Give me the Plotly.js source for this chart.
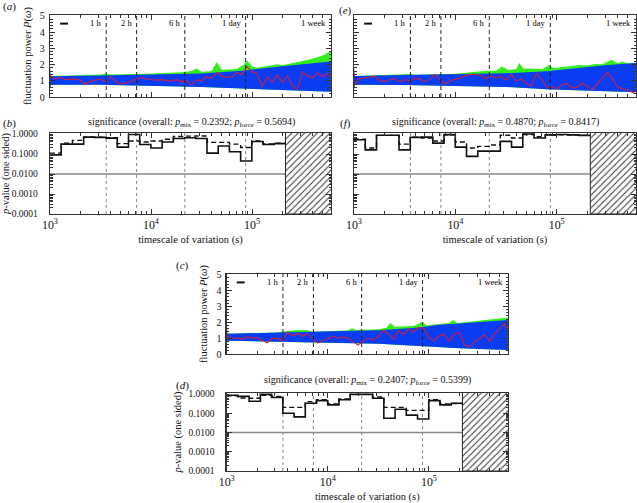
<!DOCTYPE html>
<html><head><meta charset="utf-8">
<script src="https://cdn.plot.ly/plotly-3.0.1.min.js"></script>
<style>html,body{margin:0;padding:0;background:#fff}#chart{width:637px;height:503px}</style>
</head><body><div id="chart"></div>
<script>
// ---------- data ----------
// common sampling grid of the fluctuation-power curves (log10 of timescale in s)
const gridLog = [3.00,3.05,3.10,3.15,3.20,3.25,3.30,3.35,3.40,3.45,3.50,3.55,3.60,3.65,3.70,3.75,3.80,3.85,3.90,3.95,
  4.00,4.05,4.10,4.15,4.20,4.25,4.30,4.35,4.40,4.45,4.50,4.55,4.60,4.65,4.70,4.75,4.80,4.85,4.90,4.95,
  5.00,5.05,5.10,5.15,5.20,5.25,5.30,5.35,5.40,5.45,5.50,5.55,5.60,5.65,5.70,5.75,5.78];
const redA = [1.35,1.10,1.20,1.08,1.10,1.10,1.05,0.80,0.95,1.05,1.10,0.92,1.25,0.95,0.80,0.85,0.95,1.10,1.20,1.12,
  1.08,1.03,1.07,1.02,0.98,1.07,0.95,1.02,0.75,1.05,1.00,1.25,1.15,1.50,1.30,1.20,1.25,1.50,1.40,1.88,
  1.55,1.45,0.65,1.25,0.90,1.35,0.90,1.30,0.70,0.48,1.55,1.30,1.20,1.50,1.25,1.45,1.20];
const redE = [0.70,1.12,1.15,1.20,1.28,1.05,0.95,1.05,1.13,0.93,1.07,1.00,1.15,1.10,0.93,1.10,1.40,1.03,0.80,1.00,
  1.10,1.15,1.33,1.38,1.40,1.33,1.15,1.28,1.20,1.24,1.05,1.40,1.00,1.10,0.85,0.70,1.45,1.10,0.62,0.65,
  0.50,0.75,0.82,0.55,0.60,0.85,0.70,0.45,0.80,1.10,1.50,1.10,0.62,0.50,0.42,0.28,0.20];
const redC = [1.15,0.98,1.02,0.94,1.08,1.00,1.04,0.85,0.70,0.98,1.00,0.85,1.35,1.15,1.30,1.12,1.30,0.94,0.70,0.83,
  1.00,1.12,1.00,1.08,1.00,0.75,0.56,0.83,0.98,0.90,1.10,1.50,1.25,0.94,1.46,1.25,1.56,1.40,1.68,1.60,
  1.04,0.83,1.15,1.25,0.80,1.25,1.35,0.60,0.45,0.75,0.95,1.20,0.80,1.30,1.60,1.90,1.50];

// blue band (simulated range)
const bandLog = [3.000,3.008,3.5,4.0,4.5,4.9,5.1,5.3,5.5,5.78];
const bandUpA = [1.90,1.28,1.32,1.38,1.45,1.62,1.78,1.90,2.02,2.18];
const bandLoA = [0.50,0.75,0.76,0.70,0.62,0.52,0.46,0.42,0.38,0.33];
const bandUpE = [1.90,1.30,1.35,1.40,1.46,1.58,1.72,1.86,1.97,2.10];
const bandLoE = [0.45,0.76,0.74,0.69,0.62,0.48,0.43,0.39,0.35,0.30];
const bandUpC = [1.90,1.28,1.35,1.42,1.50,1.68,1.84,1.92,2.02,2.15];
const bandLoC = [0.60,0.83,0.78,0.72,0.65,0.50,0.42,0.37,0.32,0.25];

// green envelope
const greenLogA = [3.0,3.5,3.56,3.6,4.0,4.3,4.4,4.45,4.5,4.6,4.65,4.7,4.85,4.92,4.95,5.0,5.05,5.2,5.25,5.3,5.4,5.5,5.6,5.7,5.78];
const greenA    = [1.30,1.38,1.45,1.38,1.45,1.52,1.60,1.75,1.55,1.60,2.15,1.68,1.72,2.00,2.25,1.90,1.80,1.95,2.02,1.96,2.10,2.25,2.35,2.55,2.85];
const greenLogE = [3.0,3.5,3.56,3.6,4.0,4.1,4.2,4.3,4.4,4.46,4.52,4.6,4.63,4.67,4.8,4.86,4.92,4.97,5.1,5.22,5.3,5.38,5.45,5.54,5.6,5.64,5.7,5.78];
const greenE    = [1.30,1.37,1.42,1.37,1.43,1.50,1.58,1.62,1.62,1.88,1.66,1.72,2.10,1.76,1.74,1.72,1.95,1.78,1.88,1.97,1.94,2.04,2.02,2.30,2.08,2.18,2.08,2.12];
const greenLogC = [3.0,3.5,3.6,3.7,3.8,3.85,4.0,4.2,4.24,4.28,4.5,4.58,4.62,4.66,4.85,4.93,4.98,5.1,5.2,5.24,5.28,5.4,5.5,5.6,5.7,5.78];
const greenC    = [1.28,1.36,1.45,1.52,1.50,1.40,1.44,1.50,1.62,1.52,1.56,1.66,1.97,1.72,1.76,2.02,1.82,1.90,1.96,2.15,1.96,2.04,2.10,2.15,2.25,2.30];

// significance bins (log10 of bin edges, s)
const binEdgesLog = [3.000,3.111,3.222,3.333,3.444,3.555,3.666,3.777,3.888,3.999,4.110,4.221,4.332,4.443,4.554,4.665,4.776,4.887,4.998,5.109,5.220,5.331];
const pMixB   = [0.09,0.31,0.31,0.70,0.68,0.62,0.22,0.95,0.30,0.20,0.40,0.60,0.65,0.60,0.11,0.25,0.13,0.045,0.42,0.30,0.33];
const pForceB = [0.11,0.35,0.48,0.70,0.70,0.66,0.33,0.45,0.40,0.45,0.55,0.75,0.78,0.80,0.38,0.38,0.31,0.21,0.45,0.32,0.35];
const pMixF   = [0.52,0.16,0.86,0.86,0.16,0.68,0.70,0.35,0.93,0.22,0.076,0.14,0.14,0.43,0.22,1.00,0.63,0.90,0.95,0.90,0.85];
const pForceF = [0.55,0.20,0.85,0.85,0.31,0.70,0.62,0.45,0.90,0.40,0.20,0.24,0.28,0.86,0.63,0.95,0.73,0.88,0.92,0.90,0.85];
const pMixD   = [0.85,0.75,0.42,0.95,0.65,0.10,0.065,0.33,0.45,0.27,0.50,0.95,0.95,0.60,0.055,0.16,0.08,0.05,0.45,0.27,0.33];
const pForceD = [0.80,0.62,0.60,0.85,0.75,0.20,0.20,0.40,0.50,0.30,0.55,0.95,0.95,0.70,0.20,0.20,0.14,0.14,0.50,0.30,0.32];

const titles = {b:['0.2392','0.5694'], f:['0.4870','0.8417'], d:['0.2407','0.5399']};
const markerT = [3600, 7200, 21600, 86400, 604800];
const markerLabels = ['1 h','2 h','6 h','1 day','1 week'];
const tMin = 1000, tMax = 604800;   // plotted timescale range (s)
const hatchStart = 2.143e5;         // timescales not covered
const sigLevel = 0.01;
const pTicks = [1, 0.1, 0.01, 0.001, 0.0001];
const pTickText = ['1.0000','0.1000','0.0100','0.0010','0.0001'];

// ---------- drawing ----------
const P = v => Math.pow(10, v);
const FONT = 'Liberation Serif, Times New Roman, serif';
const GREEN = '#33ee1c', BLUE = '#0a3cf2', RED = '#cf1f45';
const traces = [];
const annotations = [];
const shapes = [];

function topPanel(xa, ya, red, up, lo, gLog, g) {
  const bx = bandLog.map(P);
  traces.push({x:bx, y:lo, xaxis:xa, yaxis:ya, mode:'lines', line:{width:0}, hoverinfo:'skip', showlegend:false});
  traces.push({x:gLog.map(P), y:g, xaxis:xa, yaxis:ya, mode:'lines', line:{width:0}, fill:'tonexty', fillcolor:GREEN, showlegend:false});
  traces.push({x:bx, y:lo, xaxis:xa, yaxis:ya, mode:'lines', line:{width:0}, hoverinfo:'skip', showlegend:false});
  traces.push({x:bx, y:up, xaxis:xa, yaxis:ya, mode:'lines', line:{width:0}, fill:'tonexty', fillcolor:BLUE, showlegend:false});
  traces.push({x:gridLog.map(P), y:red, xaxis:xa, yaxis:ya, mode:'lines', line:{color:RED, width:1.1}, showlegend:false});
  markerT.forEach((t, i) => {
    if (i < markerT.length - 1) {
      traces.push({x:[t,t], y:[0,5.05], xaxis:xa, yaxis:ya, mode:'lines', line:{color:'#222', width:1, dash:'4px,3px'}, hoverinfo:'skip', showlegend:false});
    }
    annotations.push({xref:xa, yref:ya, x:Math.log10(Math.min(t, tMax)), y:4.55, text:markerLabels[i], showarrow:false,
      xanchor:'right', xshift:-3, font:{family:FONT, size:8.5, color:'#000'}});
  });
  shapes.push({type:'line', xref:xa+' domain', yref:ya+' domain', x0:0.036, x1:0.064, y0:0.895, y1:0.895, line:{color:'#111', width:2}});
}

function lowPanel(xa, ya, mix, force) {
  const ex = binEdgesLog.map(P);
  const mixY = mix.concat([mix[mix.length-1]]);
  const forceY = force.concat([force[force.length-1]]);
  markerT.slice(0,4).forEach(t => {
    traces.push({x:[t,t], y:[1e-4,1.12], xaxis:xa, yaxis:ya, mode:'lines', line:{color:'#666', width:0.8, dash:'dot'}, hoverinfo:'skip', showlegend:false});
  });
  traces.push({x:[tMin, tMax], y:[sigLevel, sigLevel], xaxis:xa, yaxis:ya, mode:'lines', line:{color:'#888', width:1.5}, showlegend:false});
  traces.push({x:[hatchStart, tMax*1.05, tMax*1.05, hatchStart, hatchStart], y:[1e-4,1e-4,1.2,1.2,1e-4], xaxis:xa, yaxis:ya,
    mode:'lines', line:{color:'#222', width:1}, fill:'toself', fillcolor:'white',
    fillpattern:{shape:'/', size:4.5, solidity:0.22, fgcolor:'#333', bgcolor:'white'}, showlegend:false});
  traces.push({x:ex, y:forceY, xaxis:xa, yaxis:ya, mode:'lines', line:{shape:'hv', color:'#111', width:1.4, dash:'5px,3px'}, showlegend:false});
  traces.push({x:ex, y:mixY, xaxis:xa, yaxis:ya, mode:'lines', line:{shape:'hv', color:'#111', width:1.6}, showlegend:false});
}

topPanel('x', 'y', redA, bandUpA, bandLoA, greenLogA, greenA);
lowPanel('x2', 'y2', pMixB, pForceB);
topPanel('x3', 'y3', redE, bandUpE, bandLoE, greenLogE, greenE);
lowPanel('x4', 'y4', pMixF, pForceF);
topPanel('x5', 'y5', redC, bandUpC, bandLoC, greenLogC, greenC);
lowPanel('x6', 'y6', pMixD, pForceD);

// layout geometry (paper fractions)
const W = 637, H = 503;
const dx = (a, b) => [a / W, b / W];
const dy = (top, bot) => [1 - bot / H, 1 - top / H];

const common = {showline:true, linecolor:'#333', linewidth:1.3, mirror:'ticks', ticks:'inside', tickcolor:'#333',
  showgrid:false, zeroline:false, tickfont:{family:FONT, size:10, color:'#111'}};
function xAxis(anchor, dom, labels) {
  const ax = Object.assign({}, common, {type:'log', range:[3, Math.log10(tMax)], domain:dom, anchor:anchor, dtick:1,
    exponentformat:'power', ticklen:5, showticklabels:labels, tickfont:{family:FONT, size:9.5, color:'#111'},
    minor:{ticks:'inside', ticklen:3, dtick:'D1', tickcolor:'#333'}});
  if (labels) ax.title = {text:'timescale of variation (s)', font:{family:FONT, size:10.5, color:'#111'}, standoff:4};
  return ax;
}
function yTop(anchor, dom, labels) {
  const ax = Object.assign({}, common, {range:[0, 5.05], domain:dom, anchor:anchor, dtick:1, ticklen:5, showticklabels:labels,
    ticklabelstandoff:2, minor:{ticks:'inside', ticklen:2.5, dtick:0.2, tickcolor:'#333'}});
  if (labels) ax.title = {text:'fluctuation power <i>P</i>(<i>ω</i>)', font:{family:FONT, size:10.5, color:'#111'}, standoff:6};
  return ax;
}
function yLow(anchor, dom, labels) {
  const ax = Object.assign({}, common, {type:'log', range:[-4, 0.05], domain:dom, anchor:anchor, tickvals:pTicks, ticktext:pTickText,
    ticklen:5, showticklabels:labels, ticklabelstandoff:9, tickfont:{family:FONT, size:9.5, color:'#111'},
    minor:{ticks:'inside', ticklen:2.5, dtick:'D1', tickcolor:'#333'}});
  if (labels) ax.title = {text:'<i>p</i>-value (one sided)', font:{family:FONT, size:10.5, color:'#111'}, standoff:4};
  return ax;
}

const layout = {
  width:W, height:H, margin:{l:0, r:0, t:0, b:0}, paper_bgcolor:'#fff', plot_bgcolor:'#fff', showlegend:false,
  font:{family:FONT, color:'#111'},
  xaxis:  xAxis('y',  dx(50, 331), false),  yaxis:  yTop('x',  dy(15, 97), true),
  xaxis2: xAxis('y2', dx(50, 331), true),   yaxis2: yLow('x2', dy(133, 214), true),
  xaxis3: xAxis('y3', dx(354, 636), false), yaxis3: yTop('x3', dy(15, 97), false),
  xaxis4: xAxis('y4', dx(354, 636), true),  yaxis4: yLow('x4', dy(133, 214), false),
  xaxis5: xAxis('y5', dx(226.7, 508), false), yaxis5: yTop('x5', dy(274, 354), true),
  xaxis6: xAxis('y6', dx(226.7, 508), true),  yaxis6: yLow('x6', dy(393, 471), true),
  annotations: annotations, shapes: shapes
};

function paperNote(text, px, py, size) {
  annotations.push({xref:'paper', yref:'paper', x:px / W, y:1 - py / H, text:text, showarrow:false,
    xanchor:'center', yanchor:'middle', font:{family:FONT, size:size, color:'#111'}});
}
paperNote('(<i>a</i>)', 9, 7, 11);
paperNote('(<i>b</i>)', 9, 123, 11);
paperNote('(<i>e</i>)', 345, 11, 11);
paperNote('(<i>f</i>)', 345, 123, 11);
paperNote('(<i>c</i>)', 182, 265, 11);
paperNote('(<i>d</i>)', 182, 385, 11);
const sigTitle = k => 'significance (overall: <i>p</i><sub>mix</sub> = ' + titles[k][0] + '; <i>p</i><sub>force</sub> = ' + titles[k][1] + ')';
paperNote(sigTitle('b'), 191, 122, 10);
paperNote(sigTitle('f'), 495, 122, 10);
paperNote(sigTitle('d'), 367, 380, 10);

Plotly.newPlot('chart', traces, layout, {staticPlot:true, displayModeBar:false});
</script>
</body></html>
